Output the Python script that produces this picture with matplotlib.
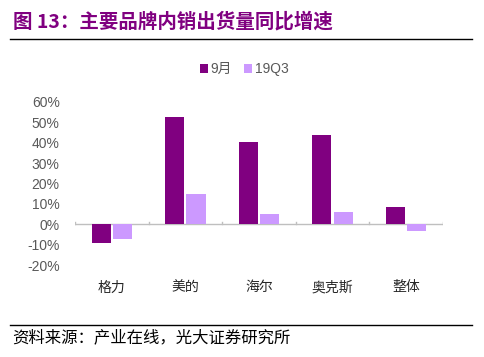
import numpy as np
import matplotlib
matplotlib.use('Agg')
import matplotlib.pyplot as plt
from matplotlib.lines import Line2D

plt.rcParams['font.family'] = ['Noto Sans CJK SC', 'DejaVu Sans']

# data
brands = ['格力', '美的', '海尔', '奥克斯', '整体']
sep = [-9.3, 52.5, 40.2, 43.6, 8.3]     # 9月
q3 = [-7.3, 14.7, 4.9, 5.9, -3.4]       # 19Q3
yticks = [-20, -10, 0, 10, 20, 30, 40, 50, 60]

dark = '#800080'
light = '#CC99FF'

fig = plt.figure(figsize=(4.85, 3.57), dpi=100)
ax = fig.add_axes([0.1546, 0.2577, 0.7588, 0.4566])

x = np.arange(len(brands))
w = 0.26
ax.bar(x - 0.145, sep, w, color=dark, label='9月', zorder=3)
ax.bar(x + 0.145, q3, w, color=light, label='19Q3', zorder=3)

ax.set_xlim(-0.5, len(brands) - 0.5)
ax.set_ylim(-20, 60)
ax.set_yticks(yticks)
ax.set_yticklabels(['%d%%' % t for t in yticks], fontsize=10, color='#595959',
                   family=['Liberation Sans', 'DejaVu Sans'])
ax.tick_params(axis='y', length=0, pad=11)
ax.set_xticks([])

for s in ax.spines.values():
    s.set_visible(False)

# zero line with small tick marks between categories
ax.axhline(0, color='#BFBFBF', lw=1, zorder=2)
for b in np.arange(-0.5, len(brands) + 0.5, 1):
    ax.plot([b, b], [0, 0.9], color='#BFBFBF', lw=1, zorder=2)

for i, name in enumerate(brands):
    ax.text(i, -31, name, ha='center', va='center', fontsize=10, color='#262626')

# legend
leg = fig.legend(*ax.get_legend_handles_labels(), loc='center',
                 bbox_to_anchor=(244 / 485, 1 - 69 / 357), ncol=2, frameon=False,
                 handlelength=0.6, handleheight=0.6, handletextpad=0.15, columnspacing=0.9,
                 borderpad=0, prop={'family': ['Liberation Sans', 'Noto Sans CJK SC'], 'size': 10})
for t in leg.get_texts():
    t.set_color('#595959')

# title and header line
title = fig.text(13 / 485, 1 - 22 / 357, '图 13：主要品牌内销出货量同比增速', fontsize=14,
                 fontweight='bold', color=dark, va='center', ha='left')
fig.add_artist(Line2D([10 / 485, 472 / 485], [1 - 39 / 357, 1 - 39 / 357], color='black', lw=1))

# footer
fig.add_artist(Line2D([10 / 485, 472 / 485], [1 - 325 / 357, 1 - 325 / 357], color='black', lw=1))
fig.text(12 / 485, 1 - 338 / 357, '资料来源：产业在线，光大证券研究所', fontsize=11.8,
         color='black', va='center', ha='left')

fig.savefig('out.png', dpi=100)
